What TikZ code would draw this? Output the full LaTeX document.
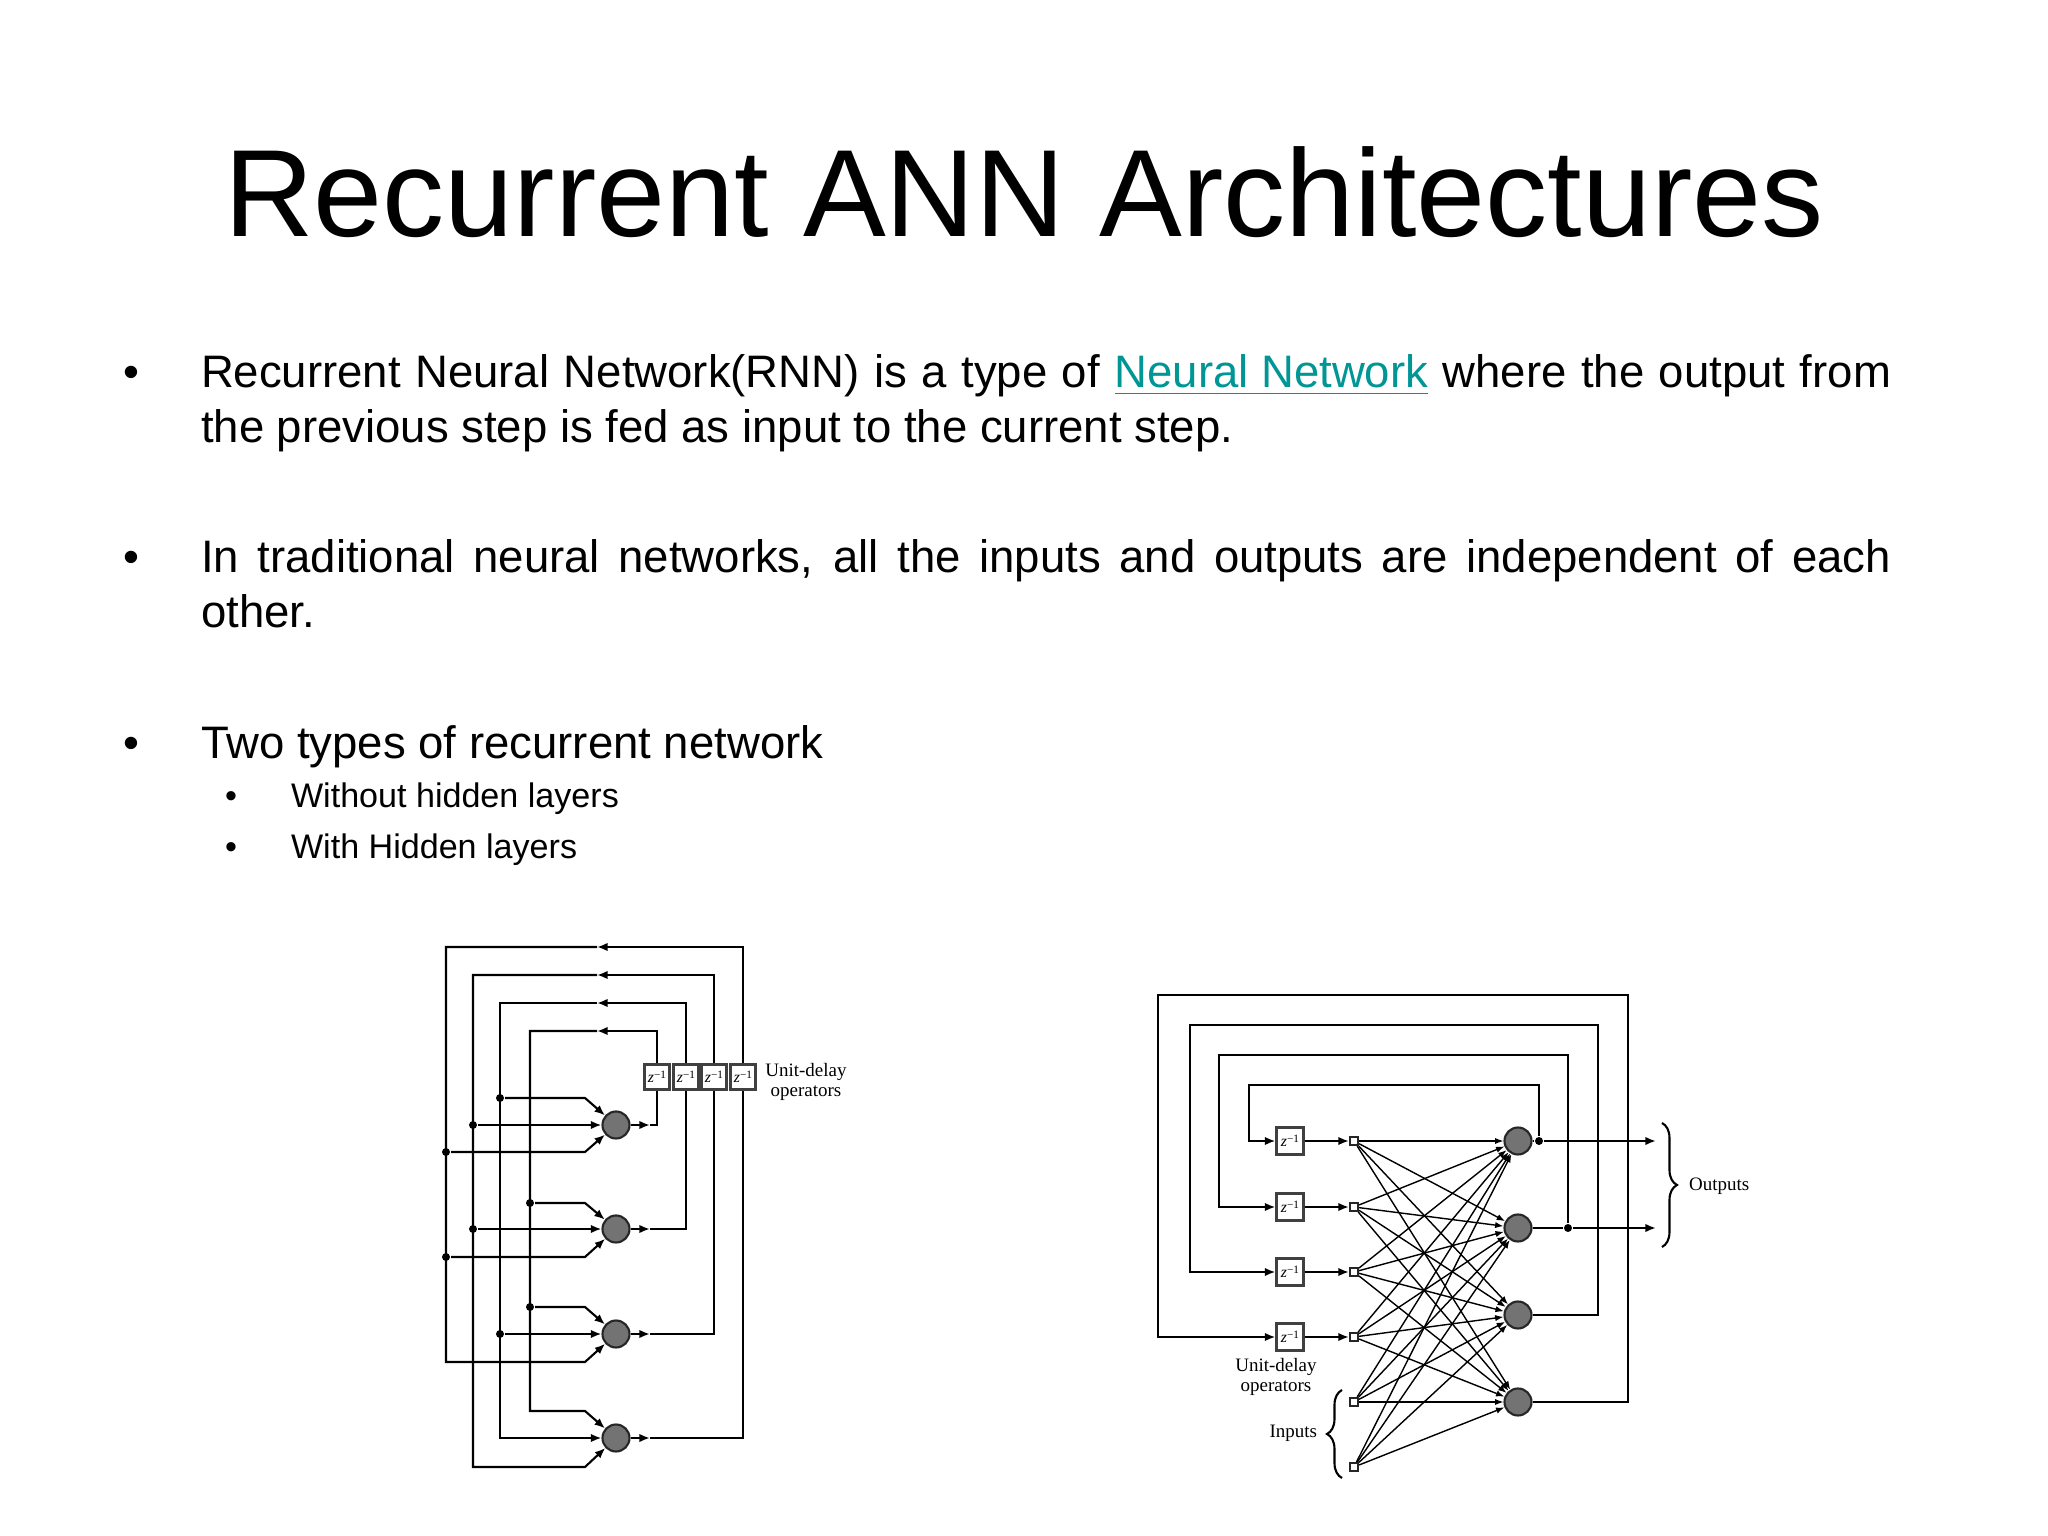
\documentclass[tikz,border=0pt]{standalone}
\usepackage{fontspec}
\setmainfont{Liberation Sans}
\newfontfamily\figfont{Liberation Serif}
\usetikzlibrary{arrows.meta,decorations.pathreplacing}
\definecolor{linkteal}{RGB}{0,150,150}
\newcommand{\zinv}{\textit{z}\raisebox{0.5ex}{\fontsize{3.2}{3.2}\selectfont −1}}

\begin{document}
\begin{tikzpicture}[x=1cm,y=-1cm,semithick,>={Latex[length=3pt,width=2.4pt]},
  headline/.style={anchor=base,inner sep=0,font=\fontsize{35.3}{42}\selectfont},
  bulletmark/.style={anchor=base,inner sep=0,font=\fontsize{12.95}{15.4}\selectfont},
  bodytext/.style={anchor=base west,inner sep=0,text width=16.9cm,align=justify,font=\fontsize{12.95}{15.4}\selectfont},
  subbullet/.style={anchor=base,inner sep=0,font=\fontsize{9.7}{11.6}\selectfont},
  subtext/.style={anchor=base west,inner sep=0,font=\fontsize{9.7}{11.6}\selectfont},
  neuron/.style={circle,draw=black!85,fill=black!55,inner sep=0,minimum size=2.7mm},
  delay/.style={rectangle,draw=black!75,fill=white,inner sep=0,minimum size=2.5mm,font=\figfont\fontsize{4.5}{5}\selectfont},
  junction/.style={circle,fill=black,inner sep=0,minimum size=0.8mm},
  port/.style={rectangle,draw=black!85,fill=white,inner sep=0,minimum size=0.8mm},
  figtext/.style={align=center,inner sep=0,font=\figfont\fontsize{5.4}{5.9}\selectfont}]
  \fill[white] (0,0) rectangle (20.48,15.36);

  \node[headline] (ttl) at (10.24,2.37) {Recurrent ANN Architectures};

  \node[bulletmark] (b1) at (1.31,3.88) {•};
  \node[bodytext] (t1) at (2.00,3.88) {Recurrent Neural Network(RNN) is a type of {\color{linkteal}\underline{Neural Network}} where the output from\linebreak the previous step is fed as input to the current step.};
  \node[bulletmark] (b2) at (1.31,5.73) {•};
  \node[bodytext] (t2) at (2.00,5.73) {In traditional neural networks, all the inputs and outputs are independent of each\linebreak other.};
  \node[bulletmark] (b3) at (1.31,7.58) {•};
  \node[bodytext] (t3) at (2.00,7.58) {Two types of recurrent network};
  \node[subbullet] (sb1) at (2.31,8.08) {•};
  \node[subtext] (st1) at (2.90,8.08) {Without hidden layers};
  \node[subbullet] (sb2) at (2.31,8.58) {•};
  \node[subtext] (st2) at (2.90,8.58) {With Hidden layers};

  \node[neuron] (p1) at (6.16,11.25) {};
  \node[neuron] (p2) at (6.16,12.29) {};
  \node[neuron] (p3) at (6.16,13.34) {};
  \node[neuron] (p4) at (6.16,14.38) {};
  \node[delay] (dl1) at (6.57,10.77) {\zinv};
  \node[delay] (dl2) at (6.86,10.77) {\zinv};
  \node[delay] (dl3) at (7.14,10.77) {\zinv};
  \node[delay] (dl4) at (7.43,10.77) {\zinv};
  \node[figtext] (ul) at (8.06,10.82) {Unit-delay\\operators};
  \node[junction] (a) at (5.00,10.98) {};
  \node[junction] (b) at (4.73,11.25) {};
  \node[junction] (c) at (4.46,11.52) {};
  \node[junction] (d) at (5.30,12.03) {};
  \node[junction] (e) at (4.73,12.29) {};
  \node[junction] (f) at (4.46,12.57) {};
  \node[junction] (g) at (5.30,13.07) {};
  \node[junction] (h) at (5.00,13.34) {};

  \draw[->] (p1) -- (6.50,11.25);
  \draw (6.50,11.25) -| (dl1);
  \draw[->] (dl1) |- (5.97,10.31);
  \draw[->] (5.97,10.31) -| (5.30,14.11) -- (5.85,14.11) -- (p4);
  \draw[->] (p2) -- (6.50,12.29);
  \draw (6.50,12.29) -| (dl2);
  \draw[->] (dl2) |- (5.97,10.03);
  \draw[->] (5.97,10.03) -| (5.00,14.38) -- (p4);
  \draw[->] (p3) -- (6.50,13.34);
  \draw (6.50,13.34) -| (dl3);
  \draw[->] (dl3) |- (5.97,9.75);
  \draw[->] (5.97,9.75) -| (4.73,14.67) -- (5.85,14.67) -- (p4);
  \draw[->] (p4) -- (6.50,14.38);
  \draw (6.50,14.38) -| (dl4);
  \draw[->] (dl4) |- (5.97,9.47);
  \draw[->] (5.97,9.47) -| (4.46,13.62) -- (5.85,13.62) -- (p3);

  \draw[->] (a) -- (5.85,10.98) -- (p1);
  \draw[->] (b) -- (p1);
  \draw[->] (c) -- (5.85,11.52) -- (p1);
  \draw[->] (d) -- (5.85,12.03) -- (p2);
  \draw[->] (e) -- (p2);
  \draw[->] (f) -- (5.85,12.57) -- (p2);
  \draw[->] (g) -- (5.85,13.07) -- (p3);
  \draw[->] (h) -- (p3);

  \node[neuron] (q1) at (15.18,11.41) {};
  \node[neuron] (q2) at (15.18,12.28) {};
  \node[neuron] (q3) at (15.18,13.15) {};
  \node[neuron] (q4) at (15.18,14.02) {};
  \node[delay,minimum size=2.7mm] (dr1) at (12.90,11.41) {\zinv};
  \node[delay,minimum size=2.7mm] (dr2) at (12.90,12.07) {\zinv};
  \node[delay,minimum size=2.7mm] (dr3) at (12.90,12.72) {\zinv};
  \node[delay,minimum size=2.7mm] (dr4) at (12.90,13.37) {\zinv};
  \node[port] (s1) at (13.54,11.41) {};
  \node[port] (s2) at (13.54,12.07) {};
  \node[port] (s3) at (13.54,12.72) {};
  \node[port] (s4) at (13.54,13.37) {};
  \node[port] (s5) at (13.54,14.02) {};
  \node[port] (s6) at (13.54,14.67) {};
  \node[junction] (j1) at (15.39,11.41) {};
  \node[junction] (j2) at (15.68,12.28) {};
  \coordinate (o1) at (16.56,11.41);
  \coordinate (o2) at (16.56,12.28);
  \node[figtext] (ur) at (12.76,13.77) {Unit-delay\\operators};
  \node[figtext,anchor=west] (outl) at (16.88,11.86) {Outputs};
  \node[figtext,anchor=east] (inl) at (13.18,14.33) {Inputs};

  \draw (q1) -- (j1);
  \draw[->] (j1) -- (o1);
  \draw[->] (j1) |- (12.49,10.85) |- (dr1);
  \draw (q2) -- (j2);
  \draw[->] (j2) -- (o2);
  \draw[->] (j2) |- (12.19,10.55) |- (dr2);
  \draw[->] (q3) -| (15.98,10.25) -| (11.90,12.72) -- (dr3);
  \draw[->] (q4) -| (16.28,9.95) -| (11.58,13.37) -- (dr4);
  \draw[->] (dr1) -- (s1);
  \draw[->] (dr2) -- (s2);
  \draw[->] (dr3) -- (s3);
  \draw[->] (dr4) -- (s4);

  \path[thin,->,>={Latex[length=2.4pt,width=1.8pt]}]
   (s1) edge (q1) (s1) edge (q2) (s1) edge (q3) (s1) edge (q4)
   (s2) edge (q1) (s2) edge (q2) (s2) edge (q3) (s2) edge (q4)
   (s3) edge (q1) (s3) edge (q2) (s3) edge (q3) (s3) edge (q4)
   (s4) edge (q1) (s4) edge (q2) (s4) edge (q3) (s4) edge (q4)
   (s5) edge (q1) (s5) edge (q2) (s5) edge (q3) (s5) edge (q4)
   (s6) edge (q1) (s6) edge (q2) (s6) edge (q3) (s6) edge (q4);

  \draw[decorate,decoration={brace,amplitude=1.5mm}] (16.62,11.23) -- (16.62,12.47);
  \draw[decorate,decoration={brace,amplitude=1.5mm}] (13.42,14.78) -- (13.42,13.90);
\end{tikzpicture}
\end{document}
